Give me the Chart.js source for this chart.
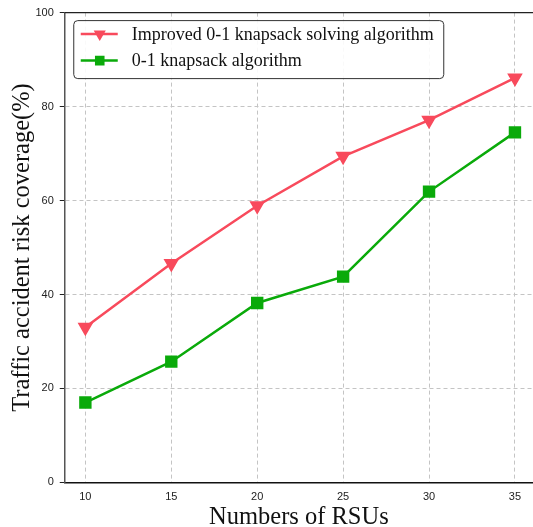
<!DOCTYPE html>
<html>
<head>
<meta charset="utf-8">
<script src="https://cdn.jsdelivr.net/npm/chart.js@4/dist/chart.umd.min.js"></script>
<style>
  body { margin: 0; background: #fff; }
  #wrap { width: 533px; height: 527px; }
</style>
</head>
<body>
<div id="wrap"><canvas id="chart" width="533" height="527"></canvas></div>
<script>
// data
var rsuCounts = [10, 15, 20, 25, 30, 35];
var improvedCoverage = [33.0, 46.6, 58.9, 69.4, 77.1, 86.1];
var knapsackCoverage = [17.0, 25.7, 38.2, 43.8, 61.9, 74.5];
var yTicks = [0, 20, 40, 60, 80, 100];
var seriesNames = ['Improved 0-1 knapsack solving algorithm', '0-1 knapsack algorithm'];

function toPoints(xs, ys) {
    return xs.map(function(x, i) { return { x: x, y: ys[i] }; });
}

// legend drawn inside the plot, upper left, boxed
var boxLegend = {
    id: 'boxLegend',
    afterDraw: function(chart) {
        var ctx = chart.ctx;
        var area = chart.chartArea;
        // top spine
        ctx.save();
        ctx.strokeStyle = '#222';
        ctx.lineWidth = 1.2;
        ctx.beginPath();
        ctx.moveTo(area.left, area.top);
        ctx.lineTo(area.right, area.top);
        ctx.stroke();

        var x0 = area.left + 9, y0 = area.top + 8, w = 370, h = 58;
        ctx.fillStyle = 'rgba(255,255,255,0.9)';
        ctx.strokeStyle = '#333';
        ctx.lineWidth = 1;
        ctx.beginPath();
        ctx.roundRect(x0, y0, w, h, 4);
        ctx.fill();
        ctx.stroke();

        ctx.font = '18px "Liberation Serif", "Times New Roman", serif';
        ctx.textBaseline = 'middle';
        chart.data.datasets.forEach(function(ds, i) {
            var cy = y0 + 13.5 + i * 26.5;
            ctx.strokeStyle = ds.borderColor;
            ctx.lineWidth = ds.borderWidth;
            ctx.beginPath();
            ctx.moveTo(x0 + 7, cy);
            ctx.lineTo(x0 + 44, cy);
            ctx.stroke();
            ctx.fillStyle = ds.pointBackgroundColor;
            ctx.strokeStyle = ds.borderColor;
            Chart.helpers.drawPoint(ctx, {
                pointStyle: ds.pointStyle,
                radius: ds.pointRadius - 2,
                rotation: ds.pointRotation || 0,
                borderWidth: 1
            }, x0 + 26, cy);
            ctx.fillStyle = '#111';
            ctx.fillText(ds.label, x0 + 58, cy + 1);
        });
        ctx.restore();
    }
};

new Chart(document.getElementById('chart').getContext('2d'), {
    type: 'line',
    data: {
        datasets: [{
            label: seriesNames[0],
            data: toPoints(rsuCounts, improvedCoverage),
            borderColor: '#f84a5c',
            backgroundColor: '#f84a5c',
            pointBackgroundColor: '#f84a5c',
            pointBorderColor: '#f84a5c',
            borderWidth: 2.5,
            pointStyle: 'triangle',
            pointRotation: 180,
            pointRadius: 6.5,
            tension: 0
        }, {
            label: seriesNames[1],
            data: toPoints(rsuCounts, knapsackCoverage),
            borderColor: '#0aaa0a',
            backgroundColor: '#0aaa0a',
            pointBackgroundColor: '#0aaa0a',
            pointBorderColor: '#0aaa0a',
            borderWidth: 2.5,
            pointStyle: 'rect',
            pointRadius: 7,
            tension: 0
        }]
    },
    options: {
        responsive: false,
        animation: false,
        layout: { autoPadding: false, padding: { top: 12, right: 0, left: 8, bottom: 1 } },
        plugins: {
            legend: { display: false },
            tooltip: { enabled: false }
        },
        scales: {
            x: {
                type: 'linear',
                min: 8.8,
                max: 36.05,
                afterBuildTicks: function(scale) {
                    scale.ticks = rsuCounts.map(function(v) { return { value: v }; });
                },
                grid: { color: '#c4c4c4', lineWidth: 1, drawTicks: false },
                border: { display: true, color: '#111', width: 1.5, dash: [4, 3] },
                ticks: { color: '#222', padding: 8, font: { family: 'Liberation Sans', size: 11 } },
                title: {
                    display: true,
                    text: 'Numbers of RSUs',
                    color: '#111',
                    padding: { top: -9, bottom: -6 },
                    font: { family: 'Liberation Serif', size: 24.5 }
                }
            },
            y: {
                min: 0,
                max: 100,
                afterBuildTicks: function(scale) {
                    scale.ticks = yTicks.map(function(v) { return { value: v }; });
                },
                grid: { color: '#c4c4c4', lineWidth: 1, tickLength: 5, tickColor: '#222' },
                border: { display: true, color: '#555', width: 1.5, dash: [4, 3] },
                ticks: { color: '#222', padding: 6, font: { family: 'Liberation Sans', size: 11 } },
                title: {
                    display: true,
                    text: 'Traffic accident risk coverage(%)',
                    color: '#111',
                    padding: { top: 0, bottom: -8 },
                    font: { family: 'Liberation Serif', size: 24.5 }
                }
            }
        }
    },
    plugins: [boxLegend]
});
</script>
</body>
</html>
